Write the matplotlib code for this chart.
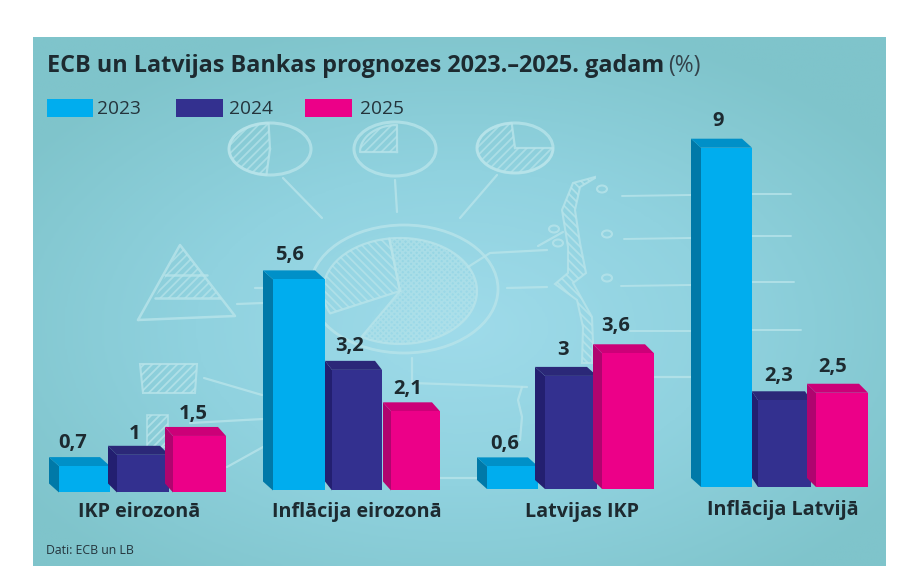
import numpy as np
import matplotlib
matplotlib.use("Agg")
import matplotlib.pyplot as plt
from matplotlib.patches import Ellipse
from matplotlib.colors import LinearSegmentedColormap

W, H = 916, 588
categories = ["IKP eirozonā", "Inflācija eirozonā", "Latvijas IKP", "Inflācija Latvijā"]
years = ["2023", "2024", "2025"]
v2023 = [0.7, 5.6, 0.6, 9]
v2024 = [1, 3.2, 3, 2.3]
v2025 = [1.5, 2.1, 3.6, 2.5]
labels2023 = ["0,7", "5,6", "0,6", "9"]
labels2024 = ["1", "3,2", "3", "2,3"]
labels2025 = ["1,5", "2,1", "3,6", "2,5"]

FRONT = ["#00adee", "#33308f", "#ec0088"]
SIDE = ["#0079a8", "#231f70", "#b0046f"]
TOP = ["#0090c8", "#2b2878", "#cc0078"]
INK = "#1d2a30"
plt.rcParams["font.family"] = ["Open Sans", "DejaVu Sans"]
plt.rcParams["hatch.linewidth"] = 1.3

PX = 37.7
BASE = 490
front_left = [[59, 117, 173], [273, 332, 391], [487, 545, 602], [701, 758, 816]]
front_right = [[110, 169, 226], [325, 382, 440], [538, 597, 654], [752, 811, 868]]
side_w = [[10, 9, 8], [10, 7, 8], [10, 10, 9], [10, 6, 9]]
baseline_px = [492.5, 490.5, 489, 487]
label_dx = [[-12, -8, -6], [-9, -7, -8], [-8, -8, -12], [-8, -6, -9]]
label_gap = [[14, 12, 13], [15, 15, 13], [13, 17, 18], [18, 15, 17]]
dy = 9

fig = plt.figure(figsize=(W/100, H/100), dpi=100, facecolor="white")
L, R, T, B = 33, 886, 37, 566
ax = fig.add_axes([L/W, 1-B/H, (R-L)/W, (B-T)/H])
ax.set_xlim(L, R)
ax.set_ylim(-(B-BASE)/PX, (BASE-T)/PX)
ax.axis("off")

yy, xx = np.mgrid[0:1:200j, 0:1:300j]
d = np.sqrt(((xx-0.5)/0.62)**2 + ((yy-0.55)/0.6)**2)
cmap = LinearSegmentedColormap.from_list("bg", ["#9fdbea", "#90d2df", "#7fc4cb"])
ax.imshow(np.clip(d, 0, 1), cmap=cmap, extent=[L, R, ax.get_ylim()[0], ax.get_ylim()[1]],
          aspect="auto", origin="upper", zorder=0, vmin=0, vmax=1)

def py(p):
    return (BASE-np.asarray(p, dtype=float))/PX

SK = "#b8e4ea"
def line(xs, ys, lw=1.6, a=0.8):
    ax.plot(xs, py(ys), color=SK, lw=lw, alpha=a, zorder=1, solid_capstyle="round")

def ring(cx, cy, rx, ry, lw=2.2):
    ax.add_patch(Ellipse((cx, py(cy)), 2*rx, 2*ry/PX, fill=False, ec=SK, lw=lw, alpha=0.8, zorder=1))

def sector(cx, cy, rx, ry, a1, a2, hatch="////", a=0.7):
    t = np.radians(np.linspace(a1, a2, 50))
    xs = np.r_[cx, cx+rx*np.cos(t), cx]
    ys = np.r_[cy, cy-ry*np.sin(t), cy]
    ax.fill(xs, py(ys), facecolor="none", edgecolor=SK, hatch=hatch, lw=0, alpha=a, zorder=1)
    ax.plot(xs, py(ys), color=SK, lw=1.6, alpha=0.8, zorder=1)

# small pies and their leaders
ring(270, 149, 41, 26); sector(270, 149, 41, 26, 92, 265)
ring(395, 149, 41, 27); sector(397, 152, 37, 27, 90, 180)
ring(515, 148, 38, 25); sector(515, 148, 38, 25, 95, 360)
line([283, 322], [178, 218]); line([395, 397], [180, 212]); line([497, 460], [175, 218])
# large pie
ax.add_patch(Ellipse((404, py(289)), 188, 128/PX, fill=False, ec=SK, lw=2, alpha=0.8, zorder=1))
sector(400, 291, 77, 53, 98, 205, hatch="\\\\\\\\")
sector(400, 291, 77, 53, -120, 98, hatch="xxxxxx", a=0.55)
# triangle
line([138, 180, 235, 138], [320, 245, 316, 320], lw=1.8)
line([155, 220], [298, 298], lw=1.8); line([165, 207], [275, 275], lw=1.8)
ax.fill([180, 155, 220], py([245, 298, 298]), facecolor="none", edgecolor=SK, hatch="////", lw=0, alpha=0.7, zorder=1)
line([237, 263], [304, 303]); line([255, 263], [288, 288])
# rectangles
ax.fill([140, 197, 195, 143], py([364, 364, 393, 393]), facecolor="none", edgecolor=SK, hatch="////", lw=1.5, alpha=0.8, zorder=1)
ax.fill([147, 168, 168, 147], py([415, 415, 447, 447]), facecolor="none", edgecolor=SK, hatch="////", lw=1.2, alpha=0.8, zorder=1)
line([204, 262], [378, 395]); line([190, 263], [423, 419]); line([227, 263], [467, 447])
# box and foot lines
line([412, 412, 527], [358, 383, 387]); line([522, 518, 522, 520], [387, 400, 417, 440])
line([440, 477], [478, 478]); line([654, 691], [377, 377])
line([468, 490, 547], [267, 253, 250]); line([507, 547], [288, 287])
# side bracket
bx_out = [595, 573, 562, 568, 568, 555, 577, 583, 582]
by_out = [177, 183, 210, 247, 273, 284, 300, 327, 363]
bx_in = [595, 580, 575, 580, 586, 573, 592, 593, 592]
by_in = [178, 187, 210, 243, 273, 283, 317, 343, 363]
ax.fill(bx_out + bx_in[::-1], py(by_out + by_in[::-1]), facecolor="none", edgecolor=SK, hatch="\\\\\\\\", lw=1.5, alpha=0.8, zorder=1)
for ex, ey in [(602, 189), (607, 234), (607, 278), (554, 229), (558, 243)]:
    ring(ex, ey, 5, 3.5, lw=1.5)
line([538, 563], [246, 232])
for x0, y0, x1, y1 in [(622, 196, 691, 195), (624, 239, 691, 238), (621, 286, 691, 285), (630, 331, 691, 331),
                       (752, 194, 791, 194), (752, 236, 791, 236), (752, 282, 794, 282), (752, 330, 801, 330)]:
    line([x0, x1], [y0, y1], lw=1.4)

# bars
for g in range(4):
    base = (BASE - baseline_px[g]) / PX
    for s, vals in enumerate([v2023, v2024, v2025]):
        x0, x1 = front_left[g][s], front_right[g][s]
        sw = side_w[g][s]
        v = vals[g]
        top = base + v
        d_y = dy/PX
        ax.fill([x0, x0-sw, x0-sw, x0], [base, base+d_y, top+d_y, top], color=SIDE[s], lw=0, zorder=3+s)
        ax.fill([x0, x0-sw, x1-sw, x1], [top, top+d_y, top+d_y, top], color=TOP[s], lw=0, zorder=3+s)
        ax.bar(x0, v, width=x1-x0, bottom=base, align="edge", color=FRONT[s], lw=0, zorder=3+s)
        txt = [labels2023, labels2024, labels2025][s][g]
        ax.text((x0+x1)/2+label_dx[g][s], top+d_y+label_gap[g][s]/PX, txt, ha="center", va="center",
                fontsize=14.5, fontweight="bold", color=INK, zorder=10)

cat_x = [139.5, 357, 582, 783]
cat_y = [512, 512, 512, 510]
for x, y, c in zip(cat_x, cat_y, categories):
    ax.text(x, py(y), c, ha="center", va="center", fontsize=14.2, fontweight="bold", color=INK, zorder=10)

ax.text(47, py(66), "ECB un Latvijas Bankas prognozes 2023.–2025. gadam", ha="left", va="center",
        fontsize=16.8, fontweight="bold", color=INK, zorder=10)
ax.text(668, py(66), "(%)", ha="left", va="center", fontsize=16.5, color="#33424a", zorder=10)
lx = [47, 176, 305]
lw_ = [46, 47, 47]
tx = [97, 229, 360]
for x, w, tex, y_, c in zip(lx, lw_, tx, years, FRONT):
    ax.bar(x, 18/PX, width=w, bottom=py(117), align="edge", color=c, lw=0, zorder=10)
    ax.text(tex, py(109), y_, ha="left", va="center", fontsize=13.8, color="#24343c", zorder=10)
ax.text(46, py(550), "Dati: ECB un LB", ha="left", va="center", fontsize=8.8, color="#24343c", zorder=10)

fig.savefig("out.png", dpi=100, facecolor="white")
